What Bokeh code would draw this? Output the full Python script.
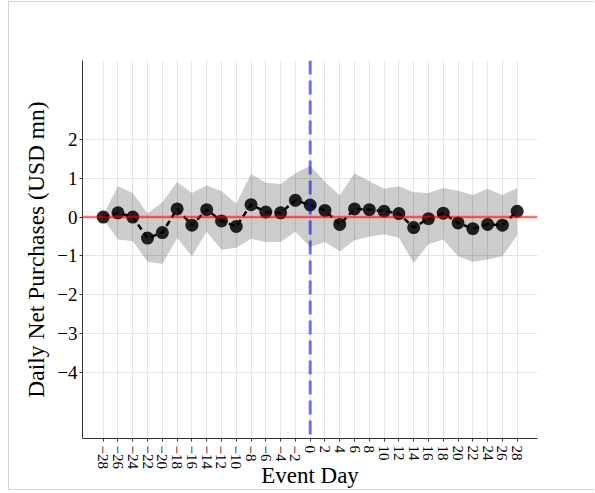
from bokeh.plotting import figure
from bokeh.models import ColumnDataSource, Span, FixedTicker
from bokeh.embed import file_html
from bokeh.resources import INLINE

# ---- data ----
event_day = [-28, -26, -24, -22, -20, -18, -16, -14, -12, -10, -8, -6, -4, -2, 0,
             2, 4, 6, 8, 10, 12, 14, 16, 18, 20, 22, 24, 26, 28]
estimate = [0.00, 0.11, 0.00, -0.54, -0.40, 0.21, -0.21, 0.19, -0.10, -0.24, 0.32, 0.13, 0.11, 0.43, 0.31,
            0.17, -0.19, 0.21, 0.19, 0.15, 0.09, -0.27, -0.04, 0.10, -0.15, -0.30, -0.19, -0.21, 0.15]
ci_upper = [0.05, 0.79, 0.62, 0.10, 0.38, 0.90, 0.62, 0.81, 0.67, 0.34, 1.11, 0.88, 0.85, 1.13, 1.32,
            0.91, 0.56, 1.13, 0.92, 0.73, 0.79, 0.64, 0.62, 0.75, 0.68, 0.57, 0.73, 0.57, 0.75]
ci_lower = [-0.05, -0.58, -0.62, -1.15, -1.21, -0.54, -1.01, -0.38, -0.84, -0.79, -0.56, -0.64, -0.64, -0.38, -0.77,
            -0.64, -0.88, -0.60, -0.51, -0.44, -0.53, -1.18, -0.70, -0.58, -1.01, -1.15, -1.09, -1.01, -0.47]

x_ticks = [-28, -26, -24, -22, -20, -18, -16, -14, -12, -10, -8, -6, -4, -2, 0,
           2, 4, 6, 8, 10, 12, 14, 16, 18, 20, 22, 24, 26, 28]
x_tick_labels = ["\u221228", "\u221226", "\u221224", "\u221222", "\u221220", "\u221218", "\u221216",
                 "\u221214", "\u221212", "\u221210", "\u22128", "\u22126", "\u22124", "\u22122", "0",
                 "2", "4", "6", "8", "10", "12", "14", "16", "18", "20", "22", "24", "26", "28"]
y_ticks = [-4, -3, -2, -1, 0, 1, 2]
y_tick_labels = ["\u22124", "\u22123", "\u22122", "\u22121", "0", "1", "2"]
x_title = "Event Day"
y_title = "Daily Net Purchases (USD mn)"

FONT = "Liberation Serif"

src = ColumnDataSource(dict(x=event_day, y=estimate, lo=ci_lower, hi=ci_upper))

p = figure(width=586, height=489, output_backend="svg", toolbar_location=None,
           x_range=(-30.8, 30.75), y_range=(-5.7, 4.03),
           min_border_left=73, min_border_right=58, min_border_top=58, min_border_bottom=53,
           margin=(1, 0, 0, 8))
p.styles = {"border-top": "1px solid #d4d4d4", "border-left": "1px solid #d4d4d4",
            "border-bottom": "1px solid #d4d4d4"}
p.outline_line_color = None
p.background_fill_color = "white"

# grid
p.xgrid.ticker = FixedTicker(ticks=x_ticks)
p.ygrid.ticker = FixedTicker(ticks=y_ticks)
p.xgrid.grid_line_color = "#e3e3e3"
p.ygrid.grid_line_color = "#e3e3e3"
p.xgrid.grid_line_width = 1
p.ygrid.grid_line_width = 1

# confidence band
p.varea(x="x", y1="lo", y2="hi", source=src, fill_color="black", fill_alpha=0.2)

# reference lines
p.add_layout(Span(location=0, dimension="width", line_color="red", line_alpha=0.55, line_width=2.5))
p.add_layout(Span(location=0, dimension="height", line_color="blue", line_alpha=0.55,
                  line_width=3, line_dash="14 6"))

# estimate line and points
p.line(x="x", y="y", source=src, line_color="black", line_width=2.5, line_dash="6 4")
p.scatter(x="x", y="y", source=src, size=13, fill_color="black", fill_alpha=0.85,
          line_color=None)

# axes
p.axis.axis_line_color = "#333333"
p.axis.axis_line_width = 1
p.axis.major_tick_line_color = "#333333"
p.axis.major_tick_out = 3
p.axis.major_tick_in = 0
p.axis.minor_tick_line_color = None
p.axis.major_label_text_color = "black"
p.axis.major_label_text_font = FONT
p.axis.axis_label_text_font = FONT
p.axis.axis_label_text_font_style = "normal"
p.axis.axis_label_text_color = "black"

p.xaxis.ticker = FixedTicker(ticks=x_ticks)
p.xaxis.major_label_overrides = {t: l for t, l in zip(x_ticks, x_tick_labels)}
p.xaxis.major_label_orientation = "vertical"
p.xaxis.major_label_text_font_size = "15px"
p.xaxis.major_label_standoff = 4
p.xaxis.axis_label = x_title
p.xaxis.axis_label_text_font_size = "23px"
p.xaxis.axis_label_standoff = -9

p.yaxis.ticker = FixedTicker(ticks=y_ticks)
p.yaxis.major_label_overrides = {t: l for t, l in zip(y_ticks, y_tick_labels)}
p.yaxis.major_label_text_font_size = "19px"
p.yaxis.major_label_standoff = 2
p.yaxis.axis_label = y_title
p.yaxis.axis_label_text_font_size = "23.5px"
p.yaxis.axis_label_standoff = 5

open("out.html", "w").write(file_html(p, INLINE))
